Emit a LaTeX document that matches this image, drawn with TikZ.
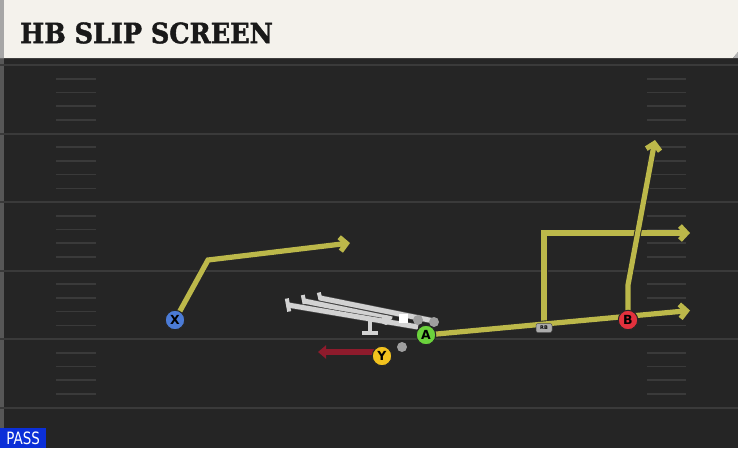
\documentclass[tikz,border=0pt]{standalone}
\usepackage{fontspec}
\usetikzlibrary{arrows.meta,calc}
\newfontfamily\titlefont[FakeBold=1.6]{DejaVu Serif}
\newfontfamily\labelfont{DejaVu Sans}
\newfontfamily\passfont{DejaVu Sans Condensed}
\definecolor{field}{HTML}{252525}
\definecolor{yardline}{HTML}{3A3A3A}
\definecolor{cream}{HTML}{F4F2EC}
\definecolor{routecol}{HTML}{BCB84A}
\definecolor{blockcol}{HTML}{D2D2D2}
\definecolor{runcol}{HTML}{8E1B2C}
\definecolor{xblue}{HTML}{4B7BD6}
\definecolor{agreen}{HTML}{6BD23C}
\definecolor{bred}{HTML}{E2313D}
\definecolor{yyellow}{HTML}{F2C21E}
\definecolor{passblue}{HTML}{0B2FD8}
\pgfdeclarelayer{fieldlayer}
\pgfdeclarelayer{routelayer}
\pgfsetlayers{fieldlayer,routelayer,main}
\tikzset{
  player/.style={circle, draw=black!85, line width=1pt, minimum size=19.5pt, inner sep=0pt,
    font=\labelfont\bfseries\fontsize{12.5}{12.5}\selectfont},
  route/.style={routecol, line width=5.2pt, line join=miter,
    -{Straight Barb[length=6.5pt,width=14pt]},
    preaction={draw=black!85, line width=7pt, -{Straight Barb[length=6.5pt,width=14pt]}}},
  blockline/.style={blockcol, line width=5pt, preaction={draw=black!70, line width=6.2pt}},
  blockcap/.style={blockcol, line width=4pt},
  lineman/.style={circle, fill=gray!75, minimum size=10pt, inner sep=0pt},
  hash/.style={yardline, line width=1.6pt},
  tag/.style={fill=gray!65, draw=black!70, line width=0.5pt, rounded corners=2pt, inner sep=1pt,
    minimum width=16pt, minimum height=9pt, font=\labelfont\bfseries\fontsize{5}{5}\selectfont},
}
\begin{document}
\begin{tikzpicture}[x=1pt,y=-1pt]
\useasboundingbox (0,0) rectangle (738,448);
\begin{pgfonlayer}{fieldlayer}
% field
\fill[field] (0,0) rectangle (738,448);
\fill[black!85] (0,57) rectangle (738,64);
\fill[gray!55!field] (0,58) rectangle (4,448);
% yard lines
\foreach \yy in {65,133.5,202,270.5,339,407.5} {
  \draw[yardline, line width=2pt] (0,\yy) -- (738,\yy);
}
% hash marks
\foreach \yy in {65,133.5,202,270.5,339} {
  \foreach \k in {1,2,3,4} {
    \draw[hash] (56,\yy+13.7*\k) -- (96,\yy+13.7*\k);
    \draw[hash] (647,\yy+13.7*\k) -- (686,\yy+13.7*\k);
  }
}
% header
\fill[cream] (0,0) -- (738,0) -- (738,52) -- (733,58) -- (0,58) -- cycle;
\fill[gray!70] (0,0) rectangle (4,58);
\fill[gray!60] (733,58) -- (738,52) -- (738,58) -- cycle;
\end{pgfonlayer}
\node[anchor=west, inner sep=0pt, text=black!90, font=\titlefont\bfseries\fontsize{28}{28}\selectfont, xscale=0.91] (title) at (20,33) {HB SLIP SCREEN};
% PASS label
\node[anchor=south west, fill=passblue, inner sep=0pt, minimum width=46pt, minimum height=20pt] (pass) at (0,448) {};
\node[text=white, inner sep=0pt, font=\passfont\fontsize{17}{17}\selectfont, xscale=0.88] (passtext) at ([yshift=-0.5pt]pass.center) {PASS};

% coordinates
\coordinate (xb) at (208,260);
\coordinate (xe) at (350,243);
\coordinate (ae) at (690,310.5);
\coordinate (bb) at (628,285);
\coordinate (be) at (655,140);
\coordinate (rc) at (544,233);
\coordinate (re) at (690,233);
\coordinate (ye) at (318,352);

% blocking lines
\coordinate (l1s) at (288,305);
\coordinate (l1e) at (418,327);
\coordinate (l2s) at (304,301);
\coordinate (l2e) at (392,319);
\coordinate (l3s) at (320,298);
\coordinate (l3e) at (434,321);
\draw[blockline] (l3s) -- (l3e);
\draw[blockline] (l2s) -- (l2e);
\draw[blockline] (l1s) -- (l1e);
\draw[blockcap] ($(l1s)+(-1.2,-6.5)$) -- ($(l1s)+(1.2,6.5)$);
\draw[blockcap] ($(l2s)+(-1.2,-6)$) -- ($(l2s)+(0.6,3)$);
\draw[blockcap] ($(l3s)+(-1.2,-5.5)$) -- ($(l3s)+(0.6,2)$);
\coordinate (vs) at (370,320);
\coordinate (ve) at (370,332);
\coordinate (vl) at (362,333);
\coordinate (vr) at (378,333);
\draw[blockcap, line width=4.5pt] (vs) -- (ve);
\draw[blockcap, line width=4.5pt] (vl) -- (vr);
\node[lineman, fill=blockcol] (c0) at (386,320) {};
\node[lineman] (c1) at (418,320) {};
\node[lineman] (c2) at (434,322) {};
\node[lineman] (c3) at (402,347) {};
\node[fill=white, minimum size=9pt, inner sep=0pt] (ball) at (403,318) {};

% players
\node[player, fill=xblue] (X) at (175,320) {X};
\node[player, fill=agreen] (A) at (426,335) {A};
\node[player, fill=bred] (B) at (628,320) {B};
\node[player, fill=yyellow] (Y) at (382,356) {Y};
\node[tag] (rb) at (544,328) {RB};

% routes
\begin{pgfonlayer}{routelayer}
\draw[route] (rb.center) -- (rc) -- (re);
\draw[route] (B.center) -- (bb) -- (be);
\draw[route] (A.center) -- (ae);
\draw[route] (X.center) -- (xb) -- (xe);
\draw[runcol, line width=5.5pt, -{Triangle[length=8pt,width=13pt]}] (Y.center |- ye) -- (ye);
\end{pgfonlayer}
\end{tikzpicture}
\end{document}
